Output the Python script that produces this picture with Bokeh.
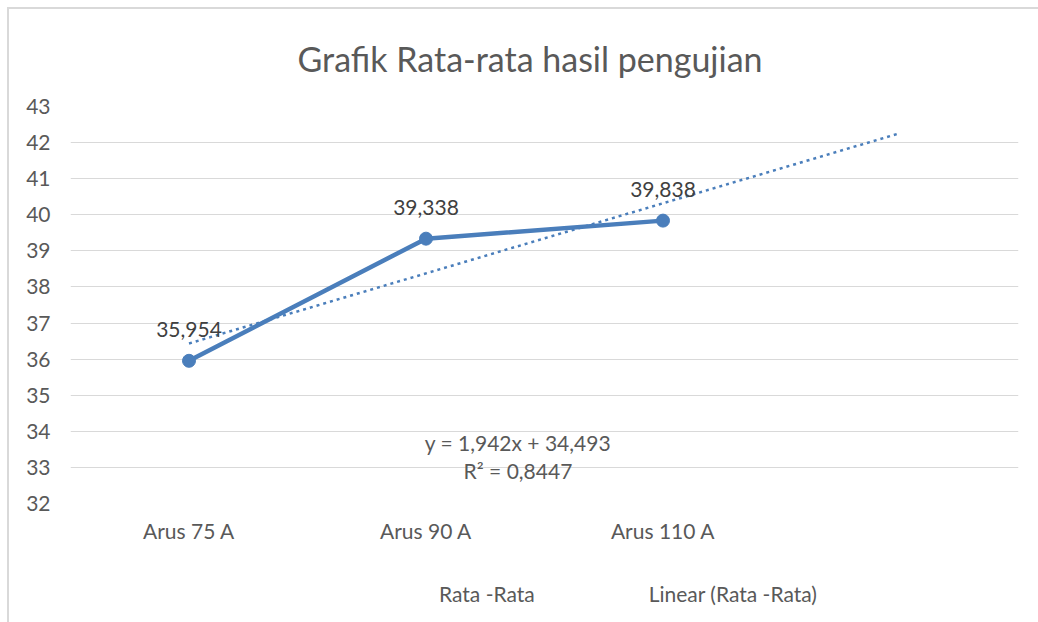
import numpy as np
from bokeh.plotting import figure
from bokeh.layouts import column
from bokeh.models import (ColumnDataSource, FixedTicker, Legend, LegendItem,
                          LabelSet, Label, Range1d, InlineStyleSheet)
from bokeh.core.properties import value
from bokeh.embed import file_html
from bokeh.resources import INLINE

# ---- data ----
categories = ["Arus 75 A", "Arus 90 A", "Arus 110 A"]
x_pos = [1, 2, 3]
rata_rata = [35.954, 39.338, 39.838]
y_ticks = list(range(32, 44))
title_text = "Grafik Rata-rata hasil pengujian"
series_name = "Rata -Rata"
trend_name = "Linear (Rata -Rata)"

# linear trendline (least squares), forecast forward 1 period
slope, intercept = np.polyfit(x_pos, rata_rata, 1)
pred = np.polyval([slope, intercept], x_pos)
ss_res = np.sum((np.array(rata_rata) - pred) ** 2)
ss_tot = np.sum((np.array(rata_rata) - np.mean(rata_rata)) ** 2)
r2 = 1 - ss_res / ss_tot
trend_x = [x_pos[0], x_pos[-1] + 1]
trend_y = [slope * v + intercept for v in trend_x]

def fmt(v, d):
    return f"{v:.{d}f}".replace(".", ",")

FONT = "Lato"
TXT = "#595959"
BLUE = "#4A7EBB"
FS = "21px"

p = figure(frame_width=948, frame_height=397, output_backend="svg",
           toolbar_location=None,
           x_range=Range1d(0.5, 4.5), y_range=Range1d(32, 43),
           min_border_left=70, min_border_right=20, min_border_top=106,
           min_border_bottom=51)
p.outline_line_color = None
p.background_fill_color = "white"
p.border_fill_color = "white"
p.stylesheets = [InlineStyleSheet(css=(
    ":host::after { content: ''; position: absolute; left: 7px; top: 7px; "
    "right: 0; bottom: 0; border-left: 2px solid #d9d9d9; "
    "border-top: 2px solid #d9d9d9; pointer-events: none; }"))]

p.title.text = title_text
p.title.align = "left"
p.title.offset = 227
p.title.text_font = FONT
p.title.text_font_size = "34px"
p.title.text_font_style = "normal"
p.title.text_color = TXT
p.title.standoff = 56

# axes
p.xaxis.ticker = FixedTicker(ticks=x_pos)
p.xaxis.major_label_overrides = {x: c for x, c in zip(x_pos, categories)}
p.yaxis.ticker = FixedTicker(ticks=y_ticks)
for ax in (p.xaxis, p.yaxis):
    ax.axis_line_color = None
    ax.major_tick_line_color = None
    ax.minor_tick_line_color = None
    ax.major_label_text_font = FONT
    ax.major_label_text_font_size = FS
    ax.major_label_text_color = TXT
p.xaxis.major_label_standoff = 8
p.yaxis.major_label_standoff = 14

p.xgrid.grid_line_color = None
p.ygrid.ticker = FixedTicker(ticks=y_ticks)
p.ygrid.grid_line_color = "#d9d9d9"
p.ygrid.grid_line_width = 1

src = ColumnDataSource(dict(x=x_pos, y=rata_rata,
                            lbl=[fmt(v, 3) for v in rata_rata]))

p.line(trend_x, trend_y, line_color=BLUE, line_width=2.5, line_dash="3 4")
p.line("x", "y", source=src, line_color=BLUE, line_width=4.5)
p.scatter("x", "y", source=src, size=13, fill_color=BLUE,
          line_color=BLUE, marker="circle")

labels = LabelSet(x="x", y="y", text="lbl", source=src, y_offset=31,
                  text_align="center", text_baseline="middle",
                  text_font=value(FONT), text_font_size=value(FS),
                  text_color=value("#404040"))
p.add_layout(labels)

eq = Label(x=2.388, y=33.70, text=f"y = {fmt(slope, 3)}x + {fmt(intercept, 3)}",
           text_align="center", text_baseline="middle", text_font=FONT,
           text_font_size=FS, text_color=TXT)
r2l = Label(x=2.388, y=32.92, text=f"R² = {fmt(r2, 4)}",
            text_align="center", text_baseline="middle", text_font=FONT,
            text_font_size=FS, text_color=TXT)
p.add_layout(eq)
p.add_layout(r2l)

# ---- legend strip below the chart ----
lf = figure(width=1038, height=68, output_backend="svg", toolbar_location=None,
            x_range=Range1d(0, 1), y_range=Range1d(0, 1),
            x_axis_location=None, y_axis_location=None, min_border=0)
lf.outline_line_color = None
lf.background_fill_color = "white"
lf.border_fill_color = "white"
lf.xgrid.visible = False
lf.ygrid.visible = False
lf.stylesheets = [InlineStyleSheet(css=(
    ":host::after { content: ''; position: absolute; left: 7px; top: 0; "
    "right: 0; bottom: 0; border-left: 2px solid #d9d9d9; "
    "pointer-events: none; }"))]

k_line = lf.line(x=[], y=[], line_color=BLUE, line_width=4.5)
k_mark = lf.scatter(x=[], y=[], size=13, fill_color=BLUE, line_color=BLUE,
                    marker="circle")
k_trend = lf.line(x=[], y=[], line_color=BLUE, line_width=2.5, line_dash="3 4")

legend = Legend(items=[LegendItem(label=series_name, renderers=[k_line, k_mark]),
                       LegendItem(label=trend_name, renderers=[k_trend])],
                orientation="horizontal", location=(295, 16),
                glyph_width=68, glyph_height=20, label_standoff=6, spacing=40,
                label_text_font=FONT, label_text_font_size=FS,
                label_text_color=TXT, border_line_color=None,
                background_fill_alpha=0, margin=0, padding=6)
lf.add_layout(legend)

layout = column(p, lf, spacing=0)
open("out.html", "w").write(file_html(layout, INLINE))
